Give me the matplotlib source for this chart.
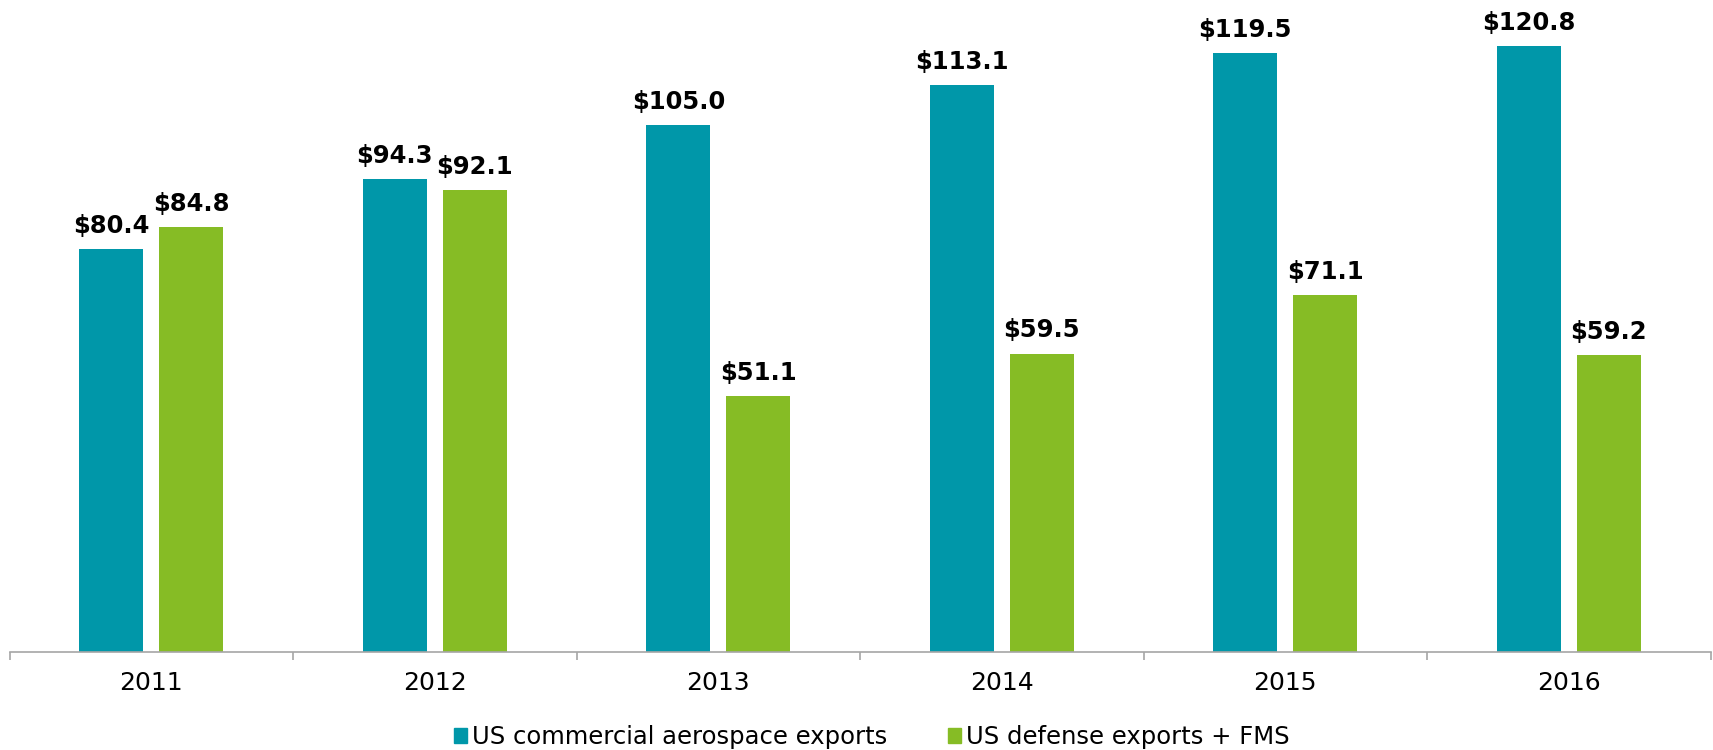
import matplotlib
matplotlib.use("Agg")
import matplotlib.pyplot as plt
import numpy as np
from matplotlib.patches import Patch

# data
years = ["2011", "2012", "2013", "2014", "2015", "2016"]
commercial = [80.4, 94.3, 105.0, 113.1, 119.5, 120.8]
defense = [84.8, 92.1, 51.1, 59.5, 71.1, 59.2]
series_names = ["US commercial aerospace exports", "US defense exports + FMS"]

teal = "#0097A9"
green = "#86BC25"

plt.rcParams['font.family'] = ['DejaVu Sans']

fig = plt.figure(figsize=(17.13, 7.5), dpi=100)
ax = fig.add_axes([9.5 / 1713, 1 - 652 / 750, 1701 / 1713, 652 / 750])

x = np.arange(len(years))
w = 0.225
off = 0.141
b1 = ax.bar(x - off, commercial, width=w, color=teal)
b2 = ax.bar(x + off, defense, width=w, color=green)

for bars, vals in [(b1, commercial), (b2, defense)]:
    for rect, v in zip(bars, vals):
        ax.annotate("${:.1f}".format(v), (rect.get_x() + rect.get_width() / 2, v),
                    xytext=(0, 8), textcoords="offset points",
                    ha="center", va="bottom", fontsize=17.5, fontweight="bold")

ax.set_xlim(-0.5, len(years) - 0.5)
ax.set_ylim(0, 130)
ax.set_yticks([])
for s in ["top", "right", "left"]:
    ax.spines[s].set_visible(False)
ax.spines["bottom"].set_color("#A6A6A6")
ax.spines["bottom"].set_linewidth(1.2)

ax.set_xticks(x)
ax.set_xticklabels(years, fontsize=18)
ax.tick_params(axis="x", which="major", length=0, pad=14)
ax.set_xticks(np.arange(-0.5, len(years), 1.0), minor=True)
ax.tick_params(axis="x", which="minor", length=6, color="#A6A6A6", width=1.2)

handles = [Patch(color=teal), Patch(color=green)]
fig.legend(handles, series_names, loc="center", bbox_to_anchor=(0.509, 1 - 737 / 750),
           ncol=2, frameon=False, fontsize=17.5, handlelength=0.55, handleheight=0.55,
           handletextpad=0.2, columnspacing=2.5)

fig.savefig("out.png", dpi=100)
